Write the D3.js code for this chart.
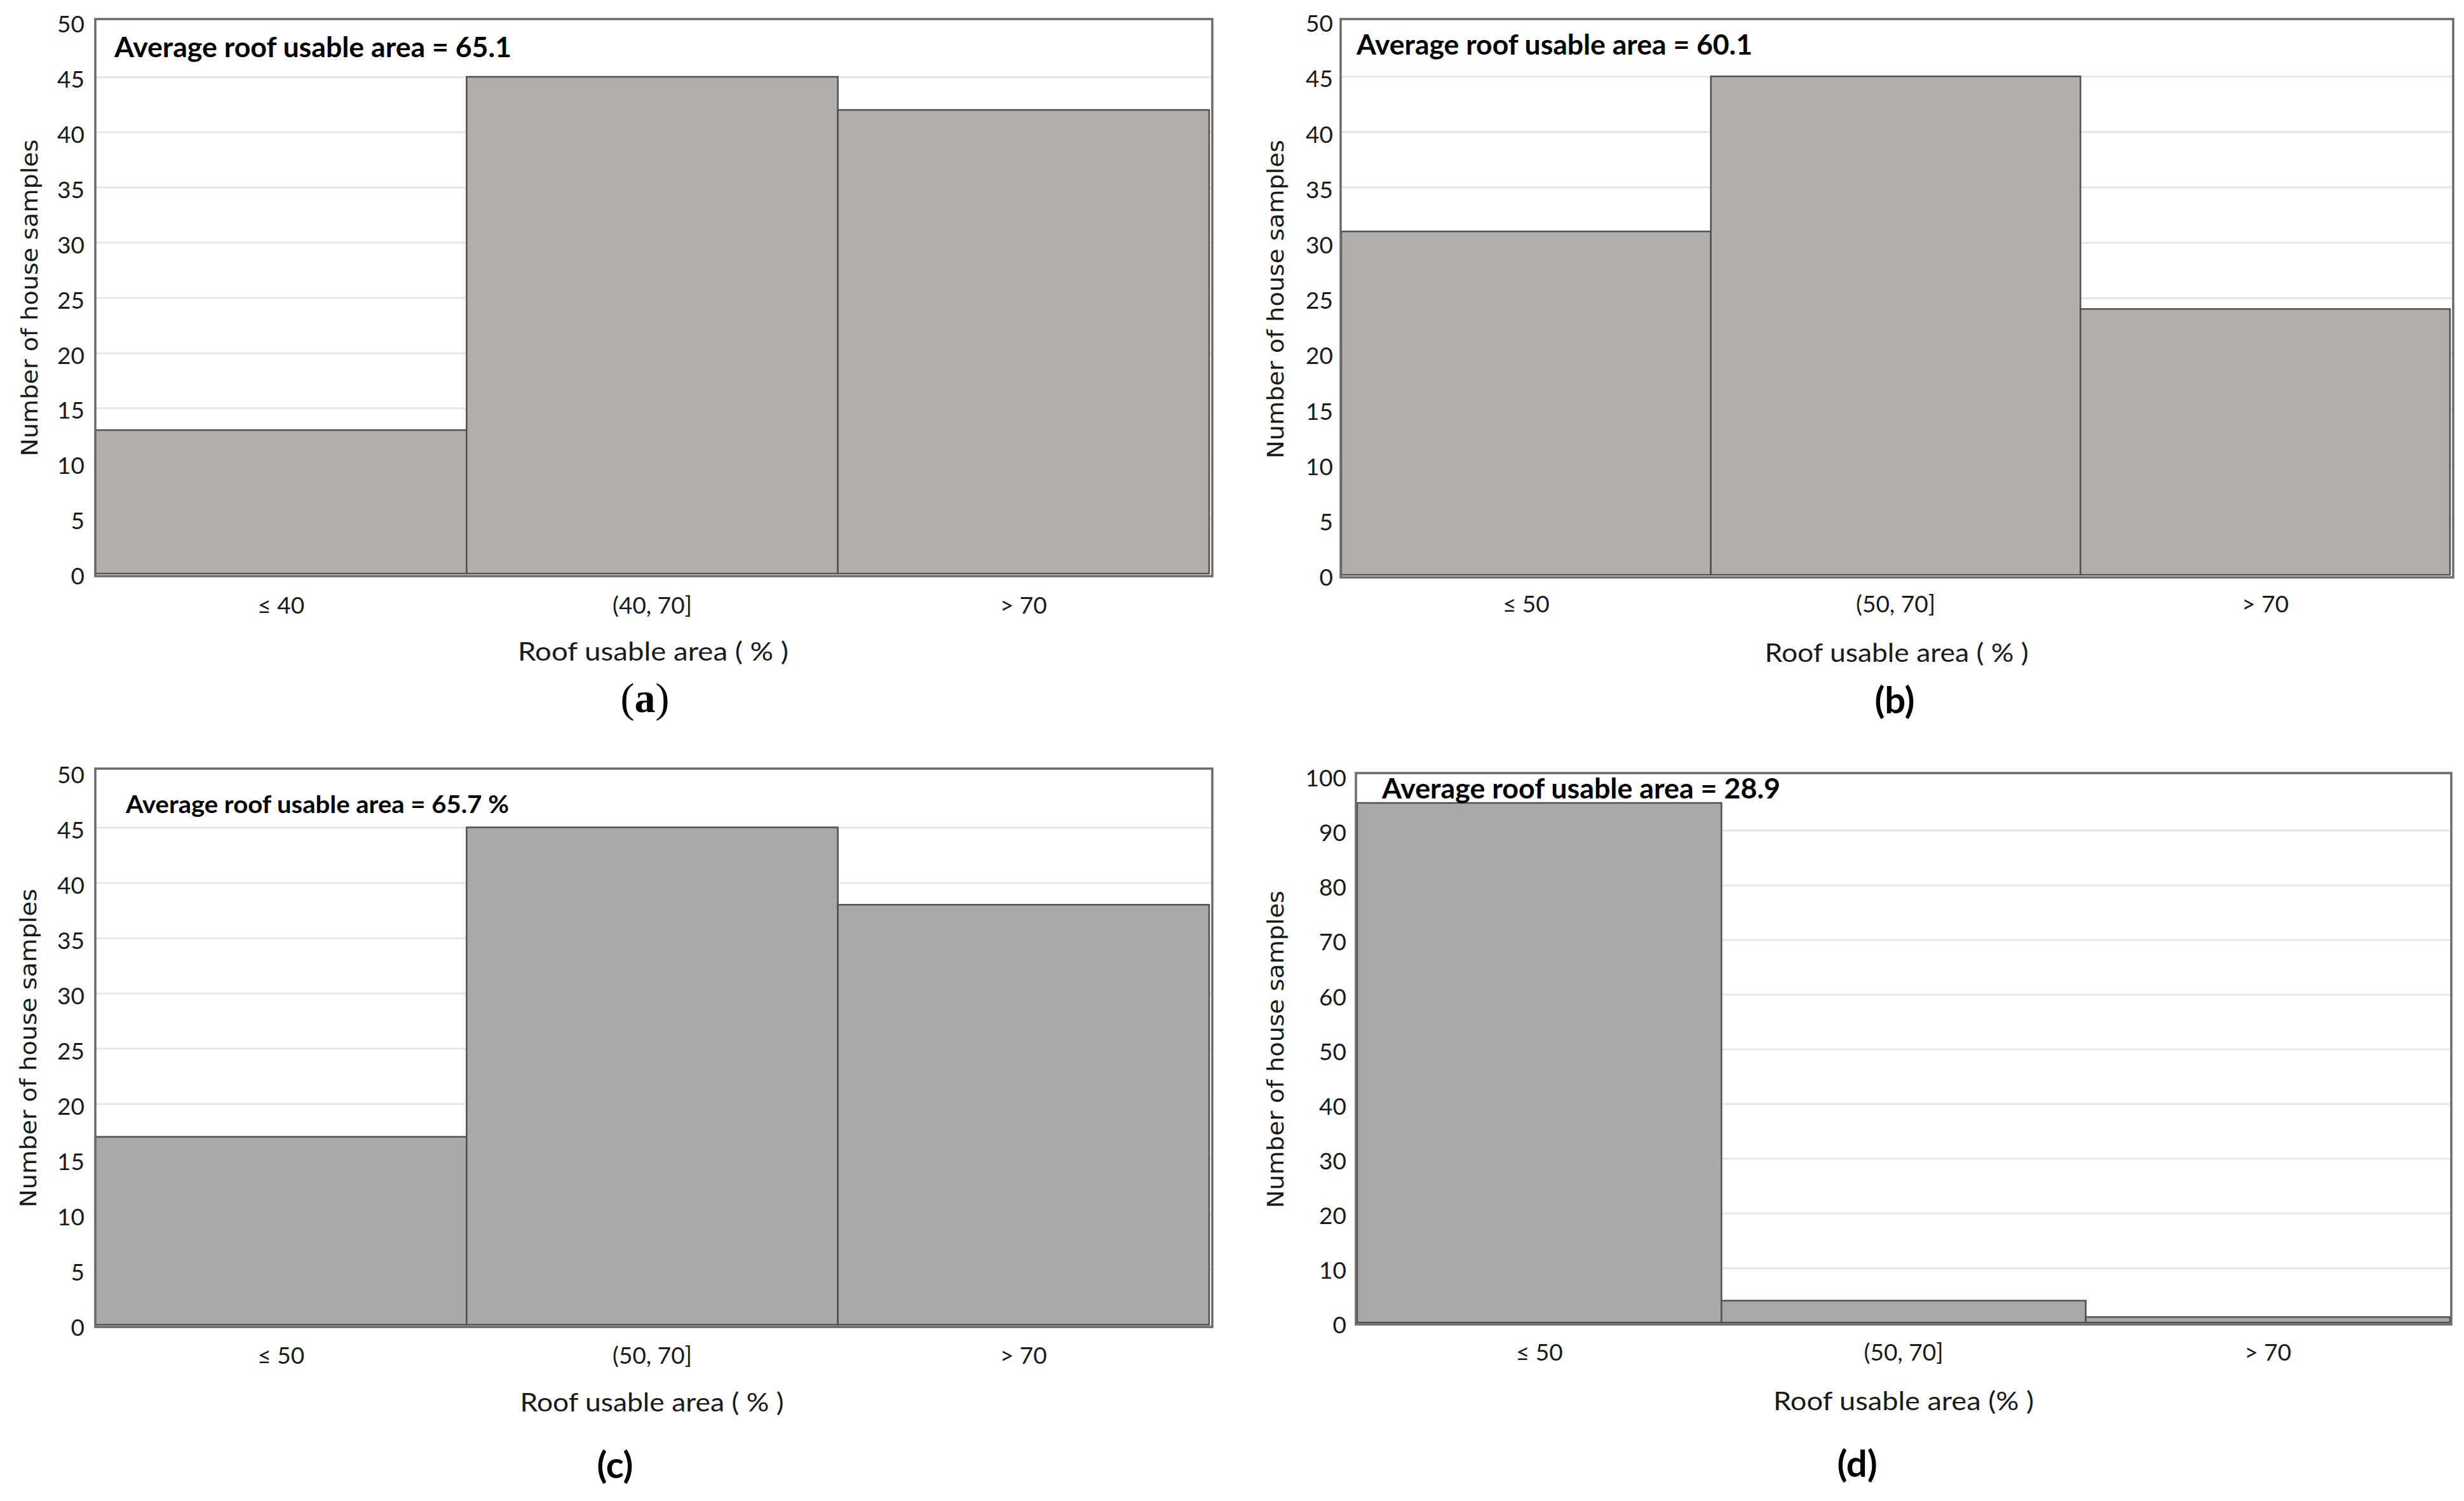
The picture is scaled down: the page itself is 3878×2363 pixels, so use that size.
<!DOCTYPE html>
<html>
<head>
<meta charset="utf-8">
<script src="https://cdn.jsdelivr.net/npm/d3@7"></script>
<style>
  html, body { margin: 0; padding: 0; background: #ffffff; }
  svg { display: block; }
</style>
</head>
<body>
<svg id="chart" width="3878" height="2363"></svg>
<script>
// ---------- DATA ----------
const categoriesA = ["\u2264 40", "(40, 70]", "> 70"];
const valuesA = [13, 45, 42];
const categoriesB = ["\u2264 50", "(50, 70]", "> 70"];
const valuesB = [31, 45, 24];
const categoriesC = ["\u2264 50", "(50, 70]", "> 70"];
const valuesC = [17, 45, 38];
const categoriesD = ["\u2264 50", "(50, 70]", "> 70"];
const valuesD = [95, 4, 1];
const yTicks50 = [0, 5, 10, 15, 20, 25, 30, 35, 40, 45, 50];
const yTicks100 = [0, 10, 20, 30, 40, 50, 60, 70, 80, 90, 100];
const annotations = [
  "Average roof usable area = 65.1",
  "Average roof usable area = 60.1",
  "Average roof usable area = 65.7 %",
  "Average roof usable area = 28.9"
];
const xTitles = [
  "Roof usable area  ( % )",
  "Roof usable area ( % )",
  "Roof usable area ( % )",
  "Roof usable area (% )"
];
const yTitle = "Number of house samples";
const panelLabels = ["(a)", "(b)", "(c)", "(d)"];

// ---------- LAYOUT ----------
const panels = [
  { cats: categoriesA, vals: valuesA, ticks: yTicks50, ymax: 50,
    fx0: 150, fx1: 1908, fy0: 30, fy1: 907, bx0: 150, bx1: 1903, y0: 903, yTop: 34,
    fill: "#b2aeac", tickRight: 133,
    ann: { x: 180, y: 90, w: 625, size: 44 },
    catY: 966, xt: { x: 1028, y: 1040, w: 426 },
    yt: { x: 47, y: 469, w: 499 },
    lab: { x: 1015, y: 1121, font: "'Liberation Serif', 'DejaVu Serif', 'Times New Roman', serif", size: 66, weight: "normal" } },
  { cats: categoriesB, vals: valuesB, ticks: yTicks50, ymax: 50,
    fx0: 2110, fx1: 3861, fy0: 30, fy1: 909, bx0: 2111, bx1: 3856, y0: 905, yTop: 33,
    fill: "#b2aeac", tickRight: 2098,
    ann: { x: 2135, y: 86, w: 623, size: 44 },
    catY: 964, xt: { x: 2985, y: 1042, w: 415 },
    yt: { x: 2008, y: 471, w: 502 },
    lab: { x: 2982, y: 1123, font: "Lato, sans-serif", size: 58, weight: "bold" } },
  { cats: categoriesC, vals: valuesC, ticks: yTicks50, ymax: 50,
    fx0: 150, fx1: 1908, fy0: 1210, fy1: 2089, bx0: 150, bx1: 1903, y0: 2085.5, yTop: 1215.5,
    fill: "#a9a9a9", tickRight: 133,
    ann: { x: 198, y: 1280, w: 603, size: 38 },
    catY: 2147, xt: { x: 1026, y: 2222, w: 415 },
    yt: { x: 45, y: 1650, w: 502 },
    lab: { x: 968, y: 2327, font: "Lato, sans-serif", size: 58, weight: "bold" } },
  { cats: categoriesD, vals: valuesD, ticks: yTicks100, ymax: 100,
    fx0: 2134, fx1: 3858, fy0: 1217, fy1: 2085, bx0: 2136, bx1: 3856, y0: 2082, yTop: 1221,
    fill: "#a9a9a9", tickRight: 2119,
    ann: { x: 2175, y: 1257, w: 627, size: 44 },
    catY: 2142, xt: { x: 2996, y: 2220, w: 410 },
    yt: { x: 2008, y: 1652, w: 500 },
    lab: { x: 2923, y: 2325, font: "Lato, sans-serif", size: 58, weight: "bold" } }
];

const svg = d3.select("#chart");
const sans = "Lato, 'Open Sans', sans-serif";

panels.forEach((p, pi) => {
  const g = svg.append("g");
  const x = d3.scaleBand().domain(p.cats).range([p.bx0, p.bx1]).padding(0);
  const y = d3.scaleLinear().domain([0, p.ymax]).range([p.y0, p.yTop]);

  g.append("rect").attr("x", p.fx0).attr("y", p.fy0)
    .attr("width", p.fx1 - p.fx0).attr("height", p.fy1 - p.fy0)
    .attr("fill", "#ffffff");

  const grid = g.append("g").attr("transform", `translate(${p.fx0},0)`)
    .call(d3.axisLeft(y).tickValues(p.ticks.filter(t => t > 0 && t < p.ymax))
      .tickSize(-(p.fx1 - p.fx0)).tickFormat(""));
  grid.select(".domain").remove();
  grid.selectAll("line").attr("stroke", "#e6e6e6").attr("stroke-width", 3);

  g.selectAll("rect.bar").data(p.cats.map((c, i) => ({ c, v: p.vals[i] })))
    .enter().append("rect").attr("class", "bar")
    .attr("x", d => x(d.c)).attr("width", x.bandwidth())
    .attr("y", d => y(d.v)).attr("height", d => y(0) - y(d.v))
    .attr("fill", p.fill).attr("stroke", "#505050").attr("stroke-width", 2.5);

  g.append("rect").attr("x", p.fx0).attr("y", p.fy0)
    .attr("width", p.fx1 - p.fx0).attr("height", p.fy1 - p.fy0)
    .attr("fill", "none").attr("stroke", "#6a6a6a").attr("stroke-width", 3.5);

  const yAxis = g.append("g").attr("transform", `translate(${p.tickRight},0)`)
    .call(d3.axisLeft(y).tickValues(p.ticks).tickSize(0).tickPadding(0));
  yAxis.select(".domain").remove();
  yAxis.selectAll("text").attr("font-family", sans).attr("font-size", 37)
    .attr("fill", "#1a1a1a").attr("dy", "0.45em");

  const xAxis = g.append("g").attr("transform", `translate(0,${p.catY})`)
    .call(d3.axisBottom(x).tickSize(0).tickPadding(0));
  xAxis.select(".domain").remove();
  xAxis.selectAll("text").attr("font-family", sans).attr("font-size", 37)
    .attr("fill", "#1a1a1a").attr("dy", 0);

  g.append("text").attr("x", p.ann.x).attr("y", p.ann.y)
    .attr("font-family", sans).attr("font-weight", "bold").attr("font-size", p.ann.size)
    .attr("fill", "#000").attr("textLength", p.ann.w).attr("lengthAdjust", "spacingAndGlyphs")
    .text(annotations[pi]);

  g.append("text").attr("x", p.xt.x).attr("y", p.xt.y).attr("text-anchor", "middle")
    .attr("font-family", sans).attr("font-size", 40).attr("fill", "#1a1a1a")
    .attr("textLength", p.xt.w).attr("lengthAdjust", "spacingAndGlyphs")
    .text(xTitles[pi]);

  g.append("text").attr("transform", `translate(${p.yt.x},${p.yt.y}) rotate(-90)`)
    .attr("text-anchor", "middle").attr("dy", "0.35em")
    .attr("font-family", "'DejaVu Sans', Verdana, sans-serif").attr("font-size", 35)
    .attr("fill", "#1a1a1a").attr("textLength", p.yt.w).attr("lengthAdjust", "spacingAndGlyphs")
    .text(yTitle);

  const lab = g.append("text").attr("x", p.lab.x).attr("y", p.lab.y).attr("text-anchor", "middle")
    .attr("font-family", p.lab.font).attr("font-weight", p.lab.weight)
    .attr("font-size", p.lab.size).attr("fill", "#000");
  if (pi === 0) {
    lab.append("tspan").text("(");
    lab.append("tspan").attr("font-weight", "bold").text("a");
    lab.append("tspan").text(")");
  } else {
    lab.text(panelLabels[pi]);
  }
});
</script>
</body>
</html>
